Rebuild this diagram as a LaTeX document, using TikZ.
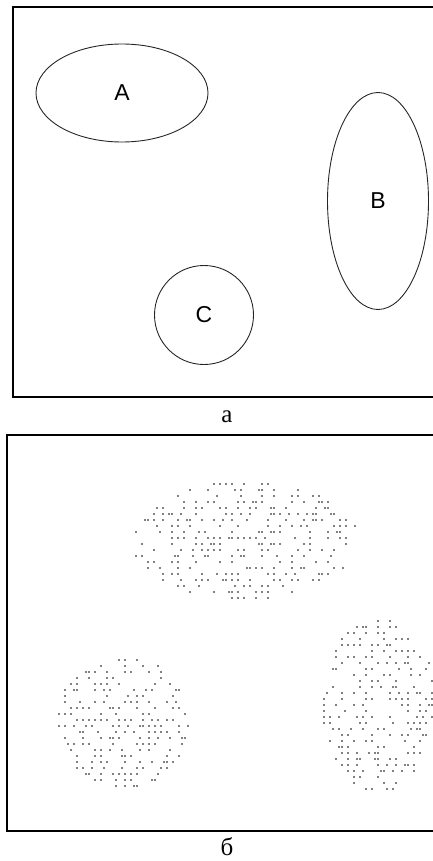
\documentclass[tikz,border=0pt]{standalone}
\usepackage{fontspec}
\setmainfont{Liberation Serif}
\setsansfont{Liberation Sans}
\usetikzlibrary{shapes.geometric}

\tikzset{
  frame/.style={line width=2.6pt},
  region/.style={draw=black!85,line width=0.9pt,inner sep=0pt,font=\sffamily\fontsize{23}{23}\selectfont},
  caption/.style={font=\fontsize{25}{25}\selectfont},
  dotc/.style={fill=black},
}

% dot cloud: centre x, centre y, half width, half height, x range, y range
\newcommand{\dotblob}[6]{%
  \foreach \gx in {#5}{
    \foreach \gy in {#6}{
      \pgfmathtruncatemacro\keep{(((\gx)/#3)^2+((\gy)/#4)^2<1)&&(rnd<0.48)}
      \ifnum\keep=1
        \pgfmathsetmacro\px{#1+\gx+3*(rnd<0.25)}
        \pgfmathsetmacro\py{#2+\gy}
        \fill[dotc] (\px,\py) circle (0.95pt);
      \fi
    }
  }%
}

\begin{document}
\begin{tikzpicture}[x=1pt,y=-1pt]
    \useasboundingbox (0,0) rectangle (433,861);
    \pgfmathsetseed{4711}

    % --- Panel a: regions ---
    \draw[frame] (13,7) rectangle (440,397);
    \node[region,ellipse,minimum width=172pt,minimum height=98pt] (A) at (122,93) {A};
    \node[region,ellipse,minimum width=101pt,minimum height=217pt] (B) at (378,201) {B};
    \node[region,circle,minimum size=99pt] (C) at (204,315) {C};
    \node[caption] (capa) at (227,417) {а};

    % --- Panel b: dot clouds ---
    \draw[frame] (7,435) rectangle (440,831);
    \dotblob{244}{541}{112}{60}{-108,-102,...,108}{-57,-51,...,57}
    \dotblob{122}{723}{66}{66}{-63,-57,...,63}{-63,-57,...,63}
    \dotblob{378}{705}{57}{87}{-54,-48,...,54}{-84,-78,...,84}
    \node[caption] (capb) at (227,847) {б};

  \end{tikzpicture}
\end{document}
